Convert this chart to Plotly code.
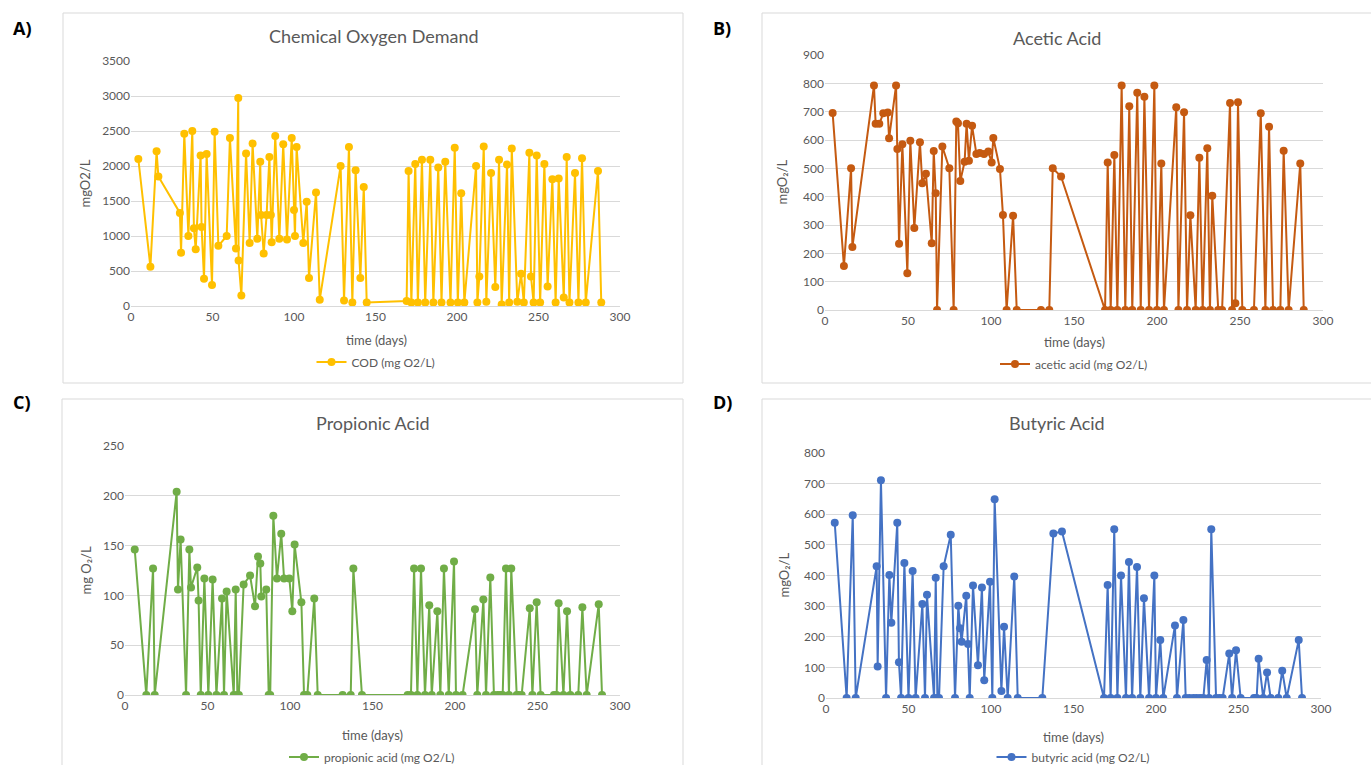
import plotly.graph_objects as go

# ---------------- data (time in days, concentrations in mg O2/L) ----------------
cod_day = [4.5, 11.9, 15.7, 16.8, 30.0, 30.7, 32.7, 35.2, 37.6, 38.6, 39.7, 42.7, 43.3, 44.8, 46.4,
           49.7, 51.3, 53.6, 58.7, 60.7, 64.4, 65.8, 66.0, 67.7, 70.6, 72.8, 74.6, 77.5, 79.3, 79.8,
           81.4, 83.2, 84.9, 85.8, 86.3, 88.5, 91.0, 93.4, 95.7, 98.6, 100.0, 100.6, 101.6, 105.7,
           107.8, 109.2, 113.5, 115.8, 128.6, 130.7, 133.7, 135.8, 137.8, 140.7, 142.8, 144.6,
           169.1, 170.3, 172.0, 174.4, 176.0, 178.5, 180.5, 183.6, 185.5, 188.5, 190.5, 192.8,
           196.0, 198.6, 200.5, 202.6, 204.5, 211.7, 212.5, 213.7, 216.4, 218.0, 220.9, 223.5,
           225.8, 227.4, 230.7, 232.0, 233.6, 237.0, 239.3, 241.0, 244.4, 245.4, 247.0, 248.9,
           251.0, 253.6, 255.6, 258.5, 260.5, 262.4, 265.5, 267.3, 269.0, 272.4, 274.5, 276.7,
           279.0, 286.5, 288.5]
cod_val = [2100, 560, 2210, 1850, 1330, 760, 2460, 1000, 2500, 1110, 810, 2150, 1130, 390, 2170,
           300, 2490, 860, 1000, 2400, 820, 2970, 650, 150, 2180, 900, 2320, 960, 2060, 1300,
           750, 1300, 2130, 1300, 910, 2430, 960, 2310, 950, 2400, 1370, 1000, 2270, 900,
           1490, 400, 1620, 90, 2000, 80, 2270, 50, 1940, 400, 1700, 50,
           70, 1930, 50, 2030, 50, 2090, 50, 2090, 50, 1980, 50, 2060,
           50, 2260, 50, 1610, 50, 2000, 50, 420, 2280, 60, 1900, 270,
           2090, 20, 2020, 50, 2250, 60, 460, 50, 2190, 420, 50, 2150,
           50, 2030, 280, 1810, 50, 1820, 120, 2130, 50, 1900, 50, 2110,
           50, 1930, 50]

acetic_day = [4.6, 11.4, 15.7, 16.5, 29.5, 30.5, 32.7, 35.1, 37.8, 38.6, 42.8, 43.6, 44.6, 46.6,
              49.6, 51.4, 53.8, 57.2, 58.6, 60.8, 64.3, 65.5, 66.7, 67.5, 70.7, 74.9, 77.5, 79.1,
              80.1, 81.5, 84.1, 85.3, 86.7, 88.6, 91.2, 93.2, 95.8, 98.4, 100.4, 101.4, 105.4,
              107.2, 109.4, 113.3, 115.5, 130.1, 135.1, 137.2, 142.2, 168.7, 170.3, 172.1, 174.3,
              176.1, 178.7, 180.9, 183.3, 185.1, 188.1, 190.2, 192.4, 195.2, 198.4, 200.0, 202.6,
              204.2, 211.6, 212.9, 216.3, 218.1, 220.1, 223.3, 225.5, 227.5, 230.3, 231.9, 233.3,
              236.9, 239.2, 244.0, 245.2, 247.2, 248.8, 251.4, 258.4, 262.5, 265.3, 267.5, 269.9,
              274.3, 276.3, 279.3, 286.3, 288.4]
acetic_val = [695, 155, 500, 222, 792, 657, 657, 694, 697, 606, 792, 568, 234, 585,
              130, 597, 289, 592, 447, 481, 236, 561, 412, 0, 577, 500, 0, 665,
              659, 455, 523, 657, 527, 650, 551, 554, 551, 559, 521, 607, 498,
              335, 0, 333, 0, 0, 0, 500, 471, 0, 521, 0, 547,
              0, 792, 0, 719, 0, 767, 0, 753, 0, 792, 0, 517,
              0, 716, 0, 698, 0, 334, 0, 537, 0, 571, 0, 403,
              0, 0, 731, 0, 24, 733, 0, 0, 694, 0, 647, 0,
              0, 562, 0, 517, 0]

propionic_day = [5.9, 12.9, 17.0, 18.0, 31.3, 32.1, 33.7, 37.0, 39.0, 40.0, 43.8, 44.6, 45.9, 48.1,
                 50.5, 53.1, 55.4, 58.8, 60.0, 61.6, 65.9, 67.1, 68.1, 69.0, 71.9, 75.8, 78.8, 80.6,
                 82.0, 82.6, 85.6, 87.1, 88.0, 89.9, 92.1, 94.7, 96.4, 99.6, 101.4, 102.8, 106.9,
                 108.5, 110.5, 114.7, 116.8, 131.9, 136.8, 138.4, 143.6, 171.3, 173.3, 175.2, 177.2,
                 179.4, 181.8, 184.4, 185.9, 189.3, 191.1, 193.3, 196.2, 199.4, 200.6, 204.6, 212.1,
                 213.5, 217.2, 218.8, 221.4, 223.6, 225.7, 227.3, 228.9, 230.9, 232.7, 234.1, 237.4,
                 238.4, 240.4, 245.3, 246.9, 249.5, 251.9, 260.0, 261.6, 262.8, 265.7, 267.9, 269.9,
                 274.7, 277.2, 279.8, 287.1, 289.1]
propionic_val = [146, 0, 127, 0, 204, 106, 156, 0, 146, 108, 128, 95, 0, 117,
                 0, 116, 0, 97, 0, 104, 0, 106, 0, 0, 111, 120, 89, 139,
                 132, 99, 106, 0, 0, 180, 117, 162, 117, 117, 84, 151, 93,
                 0, 0, 97, 0, 0, 0, 127, 0, 0, 0, 127, 0,
                 127, 0, 90, 0, 84, 0, 127, 0, 134, 0, 0, 86,
                 0, 96, 0, 118, 0, 0, 0, 0, 127, 0, 127, 0,
                 0, 0, 87, 0, 93, 0, 0, 0, 92, 0, 84, 0,
                 0, 88, 0, 91, 0]

butyric_day = [5.3, 12.5, 16.2, 18.0, 30.7, 31.3, 33.3, 36.4, 38.4, 39.6, 43.2, 44.2, 45.5, 47.5,
               50.0, 52.5, 54.3, 58.4, 60.0, 61.2, 65.5, 66.5, 67.5, 68.5, 71.3, 75.6, 78.2, 80.2,
               81.2, 82.2, 85.0, 86.1, 87.1, 89.1, 92.1, 94.5, 95.9, 99.4, 100.8, 102.2, 106.3,
               107.9, 110.1, 114.1, 116.2, 131.1, 137.8, 143.0, 168.5, 170.7, 172.5, 174.7, 176.6,
               178.8, 181.8, 183.6, 185.5, 188.5, 190.5, 192.7, 195.8, 199.0, 200.0, 202.6, 204.4,
               211.5, 212.7, 216.6, 218.0, 220.2, 222.6, 224.6, 226.7, 228.7, 230.7, 232.1, 233.5,
               236.4, 238.4, 240.4, 244.4, 246.1, 248.5, 251.3, 259.4, 261.0, 262.2, 265.0, 267.3,
               269.5, 274.1, 276.5, 279.2, 286.5, 288.5]
butyric_val = [572, 0, 597, 0, 430, 103, 711, 0, 402, 246, 572, 117, 0, 441,
               0, 415, 0, 307, 0, 337, 0, 393, 0, 0, 430, 533, 0, 301,
               228, 184, 334, 176, 0, 367, 107, 361, 58, 380, 0, 649, 23,
               233, 0, 397, 0, 0, 537, 544, 0, 369, 0, 551, 0,
               400, 0, 444, 0, 428, 0, 326, 0, 400, 0, 189, 0,
               237, 0, 255, 0, 0, 0, 0, 0, 0, 124, 0, 551,
               0, 0, 0, 145, 0, 156, 0, 0, 0, 128, 0, 83,
               0, 0, 89, 0, 189, 0]

x_ticks = [0, 50, 100, 150, 200, 250, 300]

# ---------------- page geometry (pixels) ----------------
W, H = 1371, 765
FONT = "Lato, 'Open Sans', sans-serif"
GREY = "#595959"
GRID = "#d9d9d9"


def fx(px):
    return px / W


def fy(py):
    return 1 - py / H


panels = [
    dict(name="COD (mg O2/L)", x=cod_day, y=cod_val, color="#FFC000",
         title="Chemical Oxygen Demand", ytitle="mgO2/L", ymax=3500, dtick=500,
         plot=(131, 620, 61, 306), box=(63, 13, 683, 383),
         title_pos=(374, 36), xt_pos=(376, 340), leg_pos=(376, 362), yt_x=84,
         tag="A)", tag_pos=(22, 28)),
    dict(name="acetic acid (mg O2/L)", x=acetic_day, y=acetic_val, color="#C55A11",
         title="Acetic Acid", ytitle="mgO₂/L", ymax=900, dtick=100,
         plot=(825, 1323, 55, 310), box=(762, 13, 1390, 383),
         title_pos=(1057, 38), xt_pos=(1074, 342), leg_pos=(1074, 364), yt_x=781,
         tag="B)", tag_pos=(722, 28)),
    dict(name="propionic acid (mg O2/L)", x=propionic_day, y=propionic_val, color="#70AD47",
         title="Propionic Acid", ytitle="mg O₂/L", ymax=250, dtick=50,
         plot=(125, 620, 446, 695), box=(62, 399, 683, 790),
         title_pos=(373, 423), xt_pos=(372, 735), leg_pos=(372, 757), yt_x=85,
         tag="C)", tag_pos=(22, 402)),
    dict(name="butyric acid (mg O2/L)", x=butyric_day, y=butyric_val, color="#4472C4",
         title="Butyric Acid", ytitle="mgO₂/L", ymax=800, dtick=100,
         plot=(826, 1321, 453, 698), box=(762, 399, 1390, 790),
         title_pos=(1057, 423), xt_pos=(1073, 737), leg_pos=(1073, 757), yt_x=783,
         tag="D)", tag_pos=(722, 402)),
]

fig = go.Figure()
layout = dict(width=W, height=H, autosize=False,
              margin=dict(l=0, r=0, t=0, b=0, autoexpand=False),
              paper_bgcolor="white", plot_bgcolor="white",
              font=dict(family=FONT, color=GREY),
              shapes=[], annotations=[])

for i, p in enumerate(panels, start=1):
    sfx = "" if i == 1 else str(i)
    leg = "legend" + sfx
    x0, x1, y0, y1 = p["plot"]

    fig.add_trace(go.Scatter(
        x=p["x"], y=p["y"], name=p["name"], mode="lines+markers",
        line=dict(color=p["color"], width=2),
        marker=dict(color=p["color"], size=8),
        xaxis="x" + sfx, yaxis="y" + sfx, legend=leg, showlegend=True,
    ))

    layout["xaxis" + sfx] = dict(
        domain=[fx(x0), fx(x1)], anchor="y" + sfx, range=[0, 300],
        tickvals=x_ticks, showgrid=False, zeroline=False,
        showline=True, linecolor=GRID, linewidth=1, ticks="",
        tickfont=dict(size=12, color=GREY, family=FONT), fixedrange=True)
    layout["yaxis" + sfx] = dict(
        domain=[fy(y1), fy(y0)], anchor="x" + sfx, range=[0, p["ymax"]],
        dtick=p["dtick"], showgrid=True, gridcolor=GRID, gridwidth=1,
        zeroline=False, showline=False, ticks="",
        tickfont=dict(size=12, color=GREY, family=FONT), fixedrange=True)

    lx, ly = p["leg_pos"]
    layout[leg] = dict(x=fx(lx), y=fy(ly), xref="container", yref="container",
                       xanchor="center", yanchor="middle",
                       orientation="h", bgcolor="rgba(0,0,0,0)",
                       font=dict(size=12, color=GREY, family=FONT),
                       itemwidth=30)

    bx0, by0, bx1, by1 = p["box"]
    layout["shapes"].append(dict(type="rect", xref="paper", yref="paper",
                                 x0=fx(bx0), x1=fx(bx1), y0=fy(by1), y1=fy(by0),
                                 line=dict(color=GRID, width=1), fillcolor="rgba(0,0,0,0)",
                                 layer="below"))

    tx, ty = p["title_pos"]
    layout["annotations"].append(dict(text=p["title"], x=fx(tx), y=fy(ty), xref="paper", yref="paper",
                                      showarrow=False, xanchor="center", yanchor="middle",
                                      font=dict(size=18, color=GREY, family=FONT)))
    xx, xy = p["xt_pos"]
    layout["annotations"].append(dict(text="time (days)", x=fx(xx), y=fy(xy), xref="paper", yref="paper",
                                      showarrow=False, xanchor="center", yanchor="middle",
                                      font=dict(size=13, color=GREY, family=FONT)))
    layout["annotations"].append(dict(text=p["ytitle"], x=fx(p["yt_x"]), y=fy((y0 + y1) / 2),
                                      xref="paper", yref="paper", showarrow=False, textangle=-90,
                                      xanchor="center", yanchor="middle",
                                      font=dict(size=13, color=GREY, family=FONT)))
    gx, gy = p["tag_pos"]
    layout["annotations"].append(dict(text="<b>" + p["tag"] + "</b>", x=fx(gx), y=fy(gy),
                                      xref="paper", yref="paper", showarrow=False,
                                      xanchor="center", yanchor="middle",
                                      font=dict(size=18, color="black", family="'Open Sans', sans-serif")))

fig.update_layout(**layout)
fig.write_html("out.html")
